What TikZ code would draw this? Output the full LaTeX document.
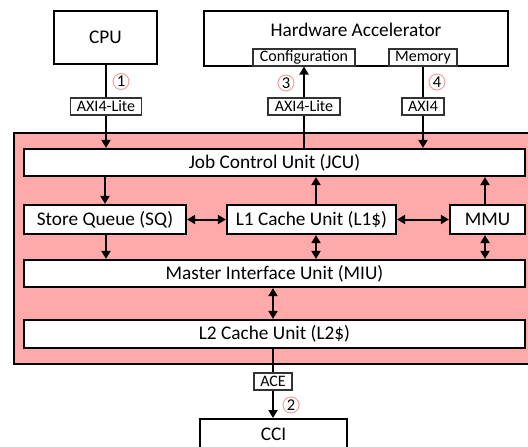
\documentclass[tikz,border=0pt]{standalone}
\usepackage{fontspec}
\setmainfont{Carlito}
\usetikzlibrary{arrows.meta}
\definecolor{unitpink}{HTML}{FFAAAA}
\definecolor{markred}{HTML}{F4A0A0}
\tikzset{
  blk/.style={draw=black, line width=2.2pt, fill=white, inner sep=0pt},
  tag/.style={draw=black!80, line width=1.1pt, fill=white, inner sep=0pt, font=\fontsize{16}{16}\selectfont},
  num/.style={circle, draw=markred, line width=1pt, inner sep=0pt, minimum size=16pt, font=\fontsize{16.5}{16.5}\selectfont},
  link/.style={line width=2pt, -{Triangle[length=8pt,width=9pt]}},
  dlink/.style={line width=2pt, {Triangle[length=8pt,width=9pt]}-{Triangle[length=8pt,width=9pt]}},
  plain/.style={line width=2pt}
}
\begin{document}
\begin{tikzpicture}[x=1pt,y=-1pt]
\useasboundingbox (0,0) rectangle (528,447);
\fontsize{19.3}{19.3}\selectfont
% outer blocks
\node[blk, minimum width=103pt, minimum height=53pt] (cpu) at (105.5,37.5) {CPU};
\node[blk, minimum width=304pt, minimum height=55pt] (hwa) at (356,38.5) {};
\node at (356,30) {Hardware Accelerator};
\node[tag, minimum width=102pt, minimum height=17pt] (cfg) at (304,57.5) {Configuration};
\node[tag, minimum width=68pt, minimum height=17pt] (mem) at (423,57.5) {Memory};
% shaded unit
\node[draw=black, line width=2.2pt, fill=unitpink, minimum width=540pt, minimum height=231pt, inner sep=0pt, anchor=north west] (unit) at (13,132) {};
\node[blk, minimum width=501pt, minimum height=27pt] (jcu) at (274.5,162.5) {Job Control Unit (JCU)};
\node[blk, minimum width=162pt, minimum height=29pt] (sq) at (105,219.5) {Store Queue (SQ)};
\node[blk, minimum width=169pt, minimum height=29pt] (l1) at (311.5,219.5) {L1 Cache Unit (L1\$)};
\node[blk, minimum width=75pt, minimum height=29pt] (mmu) at (487.5,219.5) {MMU};
\node[blk, minimum width=501pt, minimum height=27pt] (miu) at (274.5,273.5) {Master Interface Unit (MIU)};
\node[blk, minimum width=501pt, minimum height=28pt] (l2) at (274.5,334) {L2 Cache Unit (L2\$)};
\node[blk, minimum width=147pt, minimum height=40pt, anchor=north] (cci) at (273.5,418) {};
\node at (273.5,434) {CCI};
% interface tags
\node[tag, minimum width=71pt, minimum height=17pt] (t1) at (106,106.5) {AXI4-Lite};
\node[tag, minimum width=72pt, minimum height=17pt] (t3) at (304,106.5) {AXI4-Lite};
\node[tag, minimum width=42pt, minimum height=17pt] (t4) at (423,106.5) {AXI4};
\node[tag, minimum width=38pt, minimum height=17pt] (t2) at (273,381.5) {ACE};
% numbered markers
\node[num] (n1) at (121,81.5) {1};
\node[num] (n3) at (286,83) {3};
\node[num] (n4) at (437,82) {4};
\node[num] (n2) at (291,405) {2};
% external links
\draw[plain] (cpu.south -| t1) -- (t1.north);
\draw[link] (t1.south) -- (t1 |- jcu.north);
\draw[plain] (t3 |- jcu.north) -- (t3.south);
\draw[link] (t3.north) -- (cfg.south);
\draw[plain] (mem.south) -- (t4.north);
\draw[link] (t4.south) -- (t4 |- jcu.north);
\draw[plain] (l2.south -| t2) -- (t2.north);
\draw[link] (t2.south) -- (t2 |- cci.north);
% internal links
\draw[link] (jcu.south -| sq) -- (sq.north);
\draw[link] (l1.north -| 316,0) -- (jcu.south -| 316,0);
\draw[link] (mmu.north -| 485,0) -- (jcu.south -| 485,0);
\draw[dlink] (sq.east) -- (l1.west);
\draw[dlink] (l1.east) -- (mmu.west);
\draw[link] (sq.south -| 106,0) -- (miu.north -| 106,0);
\draw[dlink] (l1.south -| 316,0) -- (miu.north -| 316,0);
\draw[dlink] (mmu.south -| 485,0) -- (miu.north -| 485,0);
\draw[dlink] (miu.south -| 273,0) -- (l2.north -| 273,0);
\end{tikzpicture}
\end{document}
